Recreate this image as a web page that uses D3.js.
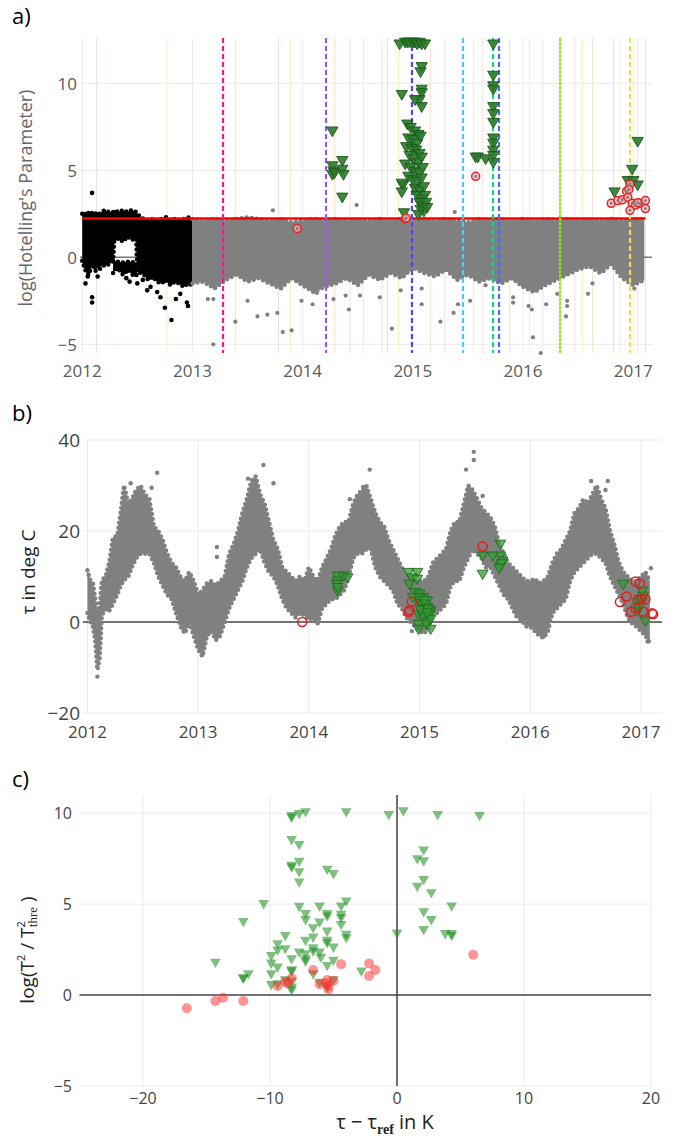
<!DOCTYPE html>
<html>
<head>
<meta charset="utf-8">
<script src="https://cdn.jsdelivr.net/npm/d3@7"></script>
<style>
  body { margin: 0; background: #fff; }
  svg { display: block; }
  text { font-family: "Open Sans", sans-serif; }
</style>
</head>
<body>
<div id="chart"></div>
<script>
// =================================== DATA ===================================

const years = [2012, 2013, 2014, 2015, 2016, 2017]

// panel a : log(Hotelling's parameter), dense cloud as [date, low, high]
const aBlackBand = [
  [2012.00, -0.2, 2.5], [2012.02, -0.6, 2.6], [2012.04, -0.9, 2.4], [2012.06, -1.0, 2.6],
  [2012.08, -0.6, 2.5], [2012.10, -0.4, 2.6], [2012.12, -0.8, 2.5], [2012.14, -0.5, 2.6],
  [2012.16, -0.7, 2.5], [2012.18, -0.3, 2.6], [2012.20, -0.5, 2.7], [2012.24, -0.4, 2.6],
  [2012.28, -0.2, 2.6], [2012.29, 0.9, 2.7], [2012.33, 1.1, 2.6], [2012.37, 0.9, 2.7],
  [2012.41, 1.2, 2.6], [2012.45, 1.0, 2.7], [2012.49, 1.1, 2.6], [2012.50, -0.8, 2.5],
  [2012.53, -0.9, 2.3],
  [2012.56, -1.0, 2.2], [2012.60, -1.3, 2.1], [2012.64, -1.1, 2.2], [2012.68, -1.4, 2.1],
  [2012.72, -1.5, 2.2], [2012.76, -1.3, 2.3], [2012.80, -1.6, 2.1], [2012.84, -1.4, 2.2],
  [2012.88, -1.5, 2.1], [2012.92, -1.7, 2.2], [2012.96, -1.5, 2.3], [2013.00, -1.6, 2.2]
]
// black points under the white gap of spring 2012
const aBlackLow = [
  [2012.28, -0.9, -0.2], [2012.32, -0.6, -0.25], [2012.37, -1.0, -0.3],
  [2012.42, -0.7, -0.25], [2012.47, -1.1, -0.3], [2012.50, -1.0, -0.3]
]
const aGrayBand = [
  [2013.0, -1.5, 2.2], [2013.1, -1.4, 2.1], [2013.2, -1.8, 2.2], [2013.3, -1.3, 2.1],
  [2013.4, -1.0, 2.2], [2013.5, -1.4, 2.3], [2013.6, -1.2, 2.2], [2013.7, -1.5, 2.1],
  [2013.8, -1.8, 2.2], [2013.9, -1.2, 2.0], [2014.0, -1.6, 2.1], [2014.1, -2.0, 2.2],
  [2014.2, -1.7, 2.1], [2014.3, -1.5, 2.2], [2014.4, -1.2, 2.1], [2014.5, -1.6, 2.2],
  [2014.6, -1.0, 2.1], [2014.7, -1.3, 2.2], [2014.8, -0.9, 2.1], [2014.9, -1.2, 2.2],
  [2015.0, -0.6, 2.1], [2015.1, -0.9, 2.2], [2015.2, -1.1, 2.1], [2015.3, -0.7, 2.2],
  [2015.4, -1.3, 2.1], [2015.5, -1.0, 2.0], [2015.6, -1.4, 2.2], [2015.7, -1.2, 2.1],
  [2015.8, -1.5, 2.2], [2015.9, -1.2, 2.1], [2016.0, -1.7, 2.2], [2016.1, -2.0, 2.1],
  [2016.2, -1.6, 2.2], [2016.3, -1.3, 2.1], [2016.4, -1.0, 2.2], [2016.5, -0.7, 2.1],
  [2016.6, -0.5, 2.2], [2016.7, -0.9, 2.1], [2016.8, -0.4, 2.2], [2016.9, -1.2, 2.1],
  [2017.0, -1.6, 2.2], [2017.1, -1.3, 2.2]
]
const aBlackDots = [
  [2012.05, -1.1], [2012.09, -2.3], [2012.09, -2.6], [2012.09, 3.7], [2012.40, -1.2],
  [2012.43, -1.4], [2012.50, -1.5], [2012.55, -1.3], [2012.59, -1.9], [2012.62, -1.7],
  [2012.68, -2.0], [2012.75, -2.9], [2012.81, -3.6], [2012.89, -2.1], [2012.95, -2.6],
  [2012.96, -2.8], [2012.71, -2.3], [2012.85, -2.4], [2012.03, -1.5], [2012.14, -1.1]
]
const aGrayDots = [
  [2013.14, -2.4], [2013.19, -2.4], [2013.19, -5.0], [2013.39, -3.7], [2013.50, -2.5],
  [2013.59, -3.4], [2013.68, -3.3], [2013.77, -3.2], [2013.82, -4.3], [2013.90, -4.2],
  [2013.99, -2.5], [2014.09, -2.7], [2014.13, -2.05], [2014.28, -2.4], [2014.39, -2.2],
  [2014.42, -3.0], [2014.52, -2.2], [2014.70, -2.3], [2014.81, -4.1], [2014.89, -1.9],
  [2015.08, -1.8], [2015.08, -2.7], [2015.25, -3.7], [2015.37, -3.2], [2015.41, -2.7],
  [2015.52, -2.5], [2015.66, -1.6], [2015.91, -2.3], [2015.91, -2.6], [2016.05, -2.8],
  [2016.08, -3.0], [2016.09, -4.6], [2016.16, -5.5], [2016.21, -2.7], [2016.31, -2.1],
  [2016.40, -2.5], [2016.40, -2.8], [2016.39, -3.4], [2016.59, -2.1], [2016.63, -1.5],
  [2016.73, -0.8], [2017.00, -1.5], [2017.01, -1.8], [2013.73, 2.7], [2014.49, 3.0],
  [2015.38, 2.6]
]
const aThreshold = 2.23
const aEventDates = [2013.278, 2014.212, 2014.992, 2015.455, 2015.728, 2015.782, 2016.336, 2016.971]
const aFaintDates = [
  2012.13, 2012.77, 2013.39, 2013.78, 2013.89, 2014.29, 2014.43, 2014.55, 2014.72, 2014.77,
  2014.87, 2015.16, 2015.29, 2015.55, 2015.63, 2015.88, 2016.06, 2016.18, 2016.47, 2016.54,
  2016.63, 2016.82, 2016.88, 2017.04, 2017.11
]
const aGreen = [
  [2014.27, 7.3], [2014.27, 5.3], [2014.27, 4.8], [2014.28, 5.0], [2014.29, 4.9],
  [2014.36, 5.6], [2014.36, 5.1], [2014.37, 4.8], [2014.36, 3.5],
  [2014.88, 12.3], [2014.93, 12.4], [2014.95, 12.4], [2014.97, 12.4], [2015.00, 12.4],
  [2015.02, 12.4], [2015.04, 12.3], [2015.06, 12.4], [2015.08, 12.3], [2015.11, 12.3],
  [2015.08, 11.0], [2015.07, 10.7], [2015.08, 9.7], [2015.08, 9.5], [2015.06, 9.1],
  [2014.90, 9.4], [2015.02, 9.1], [2015.08, 8.7],
  [2014.95, 7.7], [2014.98, 7.5], [2015.02, 7.3], [2015.05, 7.1], [2014.96, 6.9],
  [2015.00, 6.8], [2015.04, 6.6], [2015.07, 7.0], [2014.94, 6.4], [2014.99, 6.3],
  [2015.03, 6.2], [2015.06, 6.0], [2014.97, 5.9], [2015.01, 5.7], [2015.05, 5.5],
  [2015.08, 5.8], [2014.93, 5.4], [2014.98, 5.2], [2015.02, 5.0], [2015.06, 4.9],
  [2015.09, 5.2], [2014.96, 4.7], [2015.00, 4.5], [2015.04, 4.4], [2015.08, 4.6],
  [2014.91, 4.2], [2015.02, 4.0], [2015.06, 3.9], [2015.10, 4.1], [2015.04, 3.6],
  [2015.08, 3.4], [2015.11, 3.6], [2015.06, 3.2], [2015.09, 3.0], [2015.12, 3.2],
  [2015.07, 2.8], [2015.10, 2.7], [2015.13, 2.9], [2014.92, 2.6], [2014.90, 3.8],
  [2015.05, 2.5], [2014.90, 4.3],
  [2015.57, 5.8], [2015.59, 5.8], [2015.66, 5.7],
  [2015.73, 12.3], [2015.73, 10.5], [2015.73, 9.9], [2015.73, 9.7], [2015.73, 8.7],
  [2015.73, 8.3], [2015.73, 7.8], [2015.73, 6.9], [2015.73, 6.6], [2015.73, 6.2],
  [2015.73, 5.9], [2015.73, 5.5],
  [2017.04, 6.7], [2016.99, 5.1], [2016.95, 4.45], [2017.00, 4.45], [2017.04, 4.2],
  [2016.83, 3.8]
]
const aRed = [
  [2013.95, 1.65], [2014.93, 2.2], [2014.94, 2.25], [2015.57, 4.65],
  [2016.80, 3.1], [2016.86, 3.26], [2016.90, 3.3], [2016.94, 3.8], [2016.97, 4.2],
  [2016.95, 3.45], [2016.99, 3.1], [2017.02, 3.0], [2017.06, 3.1], [2017.11, 3.26],
  [2017.11, 2.8], [2016.97, 2.7], [2017.04, 3.14], [2016.96, 3.9]
]

// panel b : tau in deg C, dense cloud as [date, low, high]
const bBand = [
  [2012.00, 2.0, 11.4], [2012.02, 0.4, 9.5], [2012.05, -1, 8.5], [2012.07, -4, 5],
  [2012.09, -10.5, 2.0], [2012.11, -8, 3], [2012.13, 1.5, 9.0], [2012.17, 3.0, 10.5],
  [2012.20, 2.6, 13.5], [2012.23, 4.0, 18.5], [2012.27, 6.0, 19], [2012.30, 8.0, 24],
  [2012.33, 9.2, 30], [2012.37, 10, 26], [2012.40, 12, 27], [2012.44, 14, 29],
  [2012.48, 15, 30], [2012.52, 15, 28], [2012.56, 15, 27], [2012.60, 13, 21],
  [2012.64, 10, 20], [2012.68, 8, 18], [2012.72, 6, 15], [2012.76, 5, 13],
  [2012.80, 2, 12], [2012.84, -1, 10], [2012.88, -2.5, 9], [2012.92, 0, 11],
  [2012.96, -3, 9], [2013.00, -6, 6], [2013.04, -7.6, 7], [2013.08, -3, 8.5],
  [2013.12, -2, 9], [2013.16, -4, 8], [2013.20, -3, 9], [2013.24, 0, 10],
  [2013.28, 3, 15], [2013.32, 5, 17], [2013.36, 7, 20], [2013.40, 9, 24],
  [2013.44, 12, 27], [2013.48, 14, 31], [2013.52, 15, 32], [2013.56, 16, 28],
  [2013.60, 13, 26], [2013.64, 11, 22], [2013.68, 10, 18], [2013.72, 8, 16],
  [2013.76, 5, 12], [2013.80, 3, 11], [2013.84, 2, 10], [2013.88, 1, 9],
  [2013.92, 2, 10], [2013.96, 1.5, 9], [2014.00, 0.5, 12], [2014.04, 1, 10],
  [2014.08, -0.3, 9], [2014.12, 3, 12], [2014.16, 4, 14], [2014.20, 5, 16],
  [2014.24, 5, 19], [2014.28, 6, 21], [2014.32, 7, 22], [2014.36, 10, 22],
  [2014.40, 14, 26], [2014.44, 15, 28], [2014.48, 15, 29], [2014.52, 16, 30],
  [2014.56, 16, 27], [2014.60, 12, 24], [2014.64, 10, 22], [2014.68, 9, 21],
  [2014.72, 8, 18], [2014.76, 7, 16], [2014.80, 4, 14], [2014.84, 3, 12],
  [2014.88, 1, 10], [2014.92, 0, 10], [2014.96, -1, 9], [2015.00, -2, 9],
  [2015.04, -2.5, 9], [2015.08, -1.5, 10], [2015.12, 2, 13], [2015.16, 2, 14],
  [2015.20, 3, 15], [2015.24, 4, 16], [2015.28, 8, 20], [2015.32, 9, 22],
  [2015.36, 9, 22], [2015.40, 12, 26], [2015.44, 14, 30], [2015.48, 16, 29],
  [2015.52, 15, 27], [2015.56, 14, 25], [2015.60, 12, 24], [2015.64, 12, 23],
  [2015.68, 10, 21], [2015.72, 8, 17], [2015.76, 6, 15], [2015.80, 5, 13],
  [2015.84, 3, 12], [2015.88, 1, 11], [2015.92, 0.5, 10], [2015.96, -1, 9],
  [2016.00, -1, 9], [2016.04, -2, 9.5], [2016.08, -3, 8.5], [2016.12, -3.5, 9],
  [2016.16, -2, 10], [2016.20, 2, 13], [2016.24, 3, 15], [2016.28, 4, 16],
  [2016.32, 5, 18], [2016.36, 9, 20], [2016.40, 11, 24], [2016.44, 12, 25],
  [2016.48, 13, 27], [2016.52, 14, 26], [2016.56, 15, 28], [2016.60, 15, 30],
  [2016.64, 14, 27], [2016.68, 13, 25], [2016.72, 10, 20], [2016.76, 8, 17],
  [2016.80, 6, 13], [2016.84, 4, 11], [2016.88, 1, 10], [2016.92, -0.3, 9],
  [2016.96, -1, 9], [2017.00, -2, 10], [2017.04, -3, 11], [2017.08, -4.6, 9]
]
const bDots = [
  [2012.09, -12.0], [2012.39, 30.5], [2012.63, 32.8], [2012.58, 29.5], [2013.59, 34.5],
  [2013.45, 31.5], [2013.68, 30.5], [2013.17, 16.5], [2013.17, 14.3], [2014.55, 33.5],
  [2014.49, 29.7], [2014.37, 27], [2015.49, 37.4], [2015.49, 35.6], [2015.42, 33.5],
  [2015.57, 27.7], [2016.55, 31.0], [2016.70, 31.0], [2016.68, 29], [2016.12, -3.2],
  [2016.04, -1.4], [2017.06, -4.3], [2017.09, 11.8], [2014.93, -2.0]
]
const bGreen = [
  [2014.26, 10.3], [2014.26, 9.2], [2014.31, 10.3], [2014.35, 9.9], [2014.26, 7.0],
  [2014.25, 8.5], [2014.26, 7.8],
  [2014.90, 11.1], [2014.98, 11.1], [2014.93, 9.9], [2014.98, 9.6], [2014.91, 8.5],
  [2014.96, 6.7], [2015.00, 6.3], [2015.03, 5.6], [2014.99, 4.8], [2015.07, 4.8],
  [2015.07, 3.4], [2014.99, 1.9], [2014.99, -0.3], [2014.99, -1.4], [2015.10, -1.4],
  [2015.07, 0.4], [2015.02, 3.7], [2015.10, 2.6], [2014.94, 5.6], [2015.00, 5.5],
  [2015.02, 4.2], [2015.04, 3.0], [2015.05, 2.0], [2015.06, 1.2], [2015.08, 0.5],
  [2015.03, 1.5], [2015.01, 2.8], [2015.05, 4.0], [2015.09, 1.8], [2015.06, -0.2],
  [2015.08, 3.0], [2015.04, 5.0], [2015.10, 0.8], [2015.07, 2.2],
  [2015.57, 14.7], [2015.57, 10.7], [2015.73, 17.3], [2015.73, 14.7], [2015.73, 12.5],
  [2015.66, 14.7], [2015.75, 13.6], [2015.74, 13.0], [2015.72, 12.0],
  [2016.84, 8.5], [2017.02, 5.9], [2017.01, 7.0], [2017.04, 0.4], [2016.97, 2.6],
  [2016.99, 4.5], [2017.00, 5.2], [2016.98, 3.5]
]
const bRed = [
  [2013.94, 0], [2015.57, 16.6], [2014.91, 2.6], [2014.90, 2.2], [2014.93, 4.5],
  [2016.81, 4.4], [2016.87, 5.6], [2016.95, 8.9], [2016.99, 8.4], [2016.97, 4.8],
  [2017.01, 5.2], [2017.04, 5.0], [2016.91, 2.2], [2017.02, 2.3], [2017.10, 1.9],
  [2017.11, 1.7], [2016.95, 3.0]
]

// panel c : log(T2/T2thre) against tau - tau_ref
const cGreen = [
  [-8.3, 9.9], [-7.7, 10.0], [-7.2, 10.1], [-4.0, 10.1], [-0.65, 9.95], [0.5, 10.15],
  [3.2, 9.95], [6.5, 9.9], [-8.3, 9.8],
  [-8.3, 8.57], [-7.7, 8.3], [-7.7, 7.38], [-8.3, 7.16], [-8.3, 7.06], [-7.7, 6.8],
  [-7.7, 6.24], [-5.5, 6.94], [-5.0, 6.7], [-10.5, 5.05], [-7.7, 4.9], [-6.1, 4.92],
  [-4.4, 4.92], [-4.0, 5.2], [-7.2, 4.5], [-7.2, 4.17], [-5.5, 4.5], [-5.5, 4.37],
  [-4.4, 4.46], [-4.4, 4.28], [-12.1, 4.07], [-6.1, 4.04], [-6.6, 3.72], [-5.5, 3.54],
  [-4.4, 3.9], [-4.0, 3.36], [-4.0, 3.17], [-8.8, 3.3], [-7.2, 3.03], [-6.6, 3.21],
  [-5.5, 3.03], [-5.5, 2.9], [-9.4, 2.84], [-8.8, 2.57], [-9.4, 2.5], [-5.0, 2.66],
  [-6.6, 2.62], [-6.6, 2.44], [-6.1, 2.39], [-7.7, 2.39], [-7.2, 2.29], [-9.9, 2.2],
  [-7.2, 2.02], [-8.3, 2.02], [-7.2, 1.89], [-6.0, 2.1], [-5.0, 1.93], [-9.9, 1.78],
  [-9.4, 1.56], [-5.5, 1.65], [-14.3, 1.83], [-11.7, 1.19], [-12.1, 0.95], [-12.1, 0.98],
  [-9.9, 1.19], [-8.3, 1.41], [-8.3, 1.34], [-6.6, 1.19], [-9.4, 0.64], [-9.9, 0.6],
  [-8.8, 0.86], [-8.3, 0.79], [-8.3, 0.46], [-8.3, 0.31], [-6.1, 0.73], [-5.5, 0.46],
  [-5.0, 0.86], [-2.8, 1.34], [0.0, 3.43], [1.6, 7.52], [2.1, 8.0], [2.1, 7.4],
  [1.6, 6.0], [2.1, 6.37], [2.7, 5.65], [4.3, 4.92], [2.1, 4.6], [2.7, 4.17],
  [2.1, 3.63], [3.8, 3.4], [4.3, 3.4], [4.3, 3.3]
]
const cRed = [
  [-16.55, -0.73], [-14.3, -0.33], [-13.7, -0.15], [-12.1, -0.33], [-9.4, 0.5],
  [-8.8, 0.73], [-8.6, 0.64], [-8.3, 0.92], [-6.6, 1.38], [-6.1, 0.6], [-5.5, 0.83],
  [-5.4, 0.5], [-5.0, 0.79], [-4.4, 1.7], [-2.2, 1.74], [-2.2, 1.05], [-1.7, 1.38],
  [6.0, 2.22], [-5.4, 0.31], [-5.6, 0.65]
]

// =================================== GRAPH SETTINGS ===================================

const width = 674
const height = 1139
const minus = s => String(s).replace('-', '\u2212')
const eventColors = ['#e0228c', '#a355ee', '#5a45dd', '#5cc6ec', '#22d07a', '#4a6ef0', '#95df2c', '#f0df55']
const faintColors = ['#f9d9de', '#f7eec4', '#fae3d0']
const downTri = d3.symbol().type(d3.symbolTriangle)

const svg = d3.select('#chart').append('svg')
  .attr('width', width)
  .attr('height', height)

const xa = d3.scaleLinear().domain([2011.98, 2017.17]).range([80, 652])
const ya = d3.scaleLinear().domain([-5.5, 12.6]).range([353, 38])
const xb = d3.scaleLinear().domain([2011.96, 2017.19]).range([83, 662])
const yb = d3.scaleLinear().domain([-20, 40]).range([713, 440])
const xc = d3.scaleLinear().domain([-25, 20]).range([79.5, 651])
const yc = d3.scaleLinear().domain([-5, 11]).range([1086, 795])

// grid + tick labels, plotly look
function frame (x, y, xt, yt, opt) {
  const g = svg.append('g')
  g.selectAll('.vg').data(xt).enter().append('line')
    .attr('x1', d => x(d)).attr('x2', d => x(d))
    .attr('y1', y.range()[1]).attr('y2', y.range()[0])
    .attr('stroke', '#ebebeb').attr('stroke-width', 1)
  g.selectAll('.hg').data(yt.filter(d => d !== 0)).enter().append('line')
    .attr('x1', x.range()[0]).attr('x2', x.range()[1])
    .attr('y1', d => y(d)).attr('y2', d => y(d))
    .attr('stroke', '#ebebeb').attr('stroke-width', 1)
  g.selectAll('.xl').data(xt).enter().append('text')
    .attr('x', d => x(d)).attr('y', opt.xLabelY)
    .attr('text-anchor', 'middle').attr('dominant-baseline', 'central')
    .attr('font-size', opt.fs).attr('fill', opt.tickColor)
    .text(d => minus(d))
  g.selectAll('.yl').data(yt).enter().append('text')
    .attr('x', opt.yLabelX).attr('y', d => y(d))
    .attr('text-anchor', 'end').attr('dominant-baseline', 'central')
    .attr('font-size', opt.yfs || opt.fs).attr('fill', opt.tickColor)
    .text(d => minus(d))
  return g
}

function band (x, y, data, color) {
  const area = d3.area().x(d => x(d[0])).y0(d => y(d[1])).y1(d => y(d[2]))
  svg.append('path').datum(data).attr('d', area).attr('fill', color)
  ;[1, 2].forEach(k => {
    svg.append('path').datum(data)
      .attr('d', d3.line().x(d => x(d[0])).y(d => y(d[k])))
      .attr('fill', 'none').attr('stroke', color).attr('stroke-width', 4.5)
      .attr('stroke-linecap', 'round').attr('stroke-dasharray', '0 5')
  })
}

function dots (x, y, data, color, r) {
  svg.append('g').selectAll('circle').data(data).enter().append('circle')
    .attr('cx', d => x(d[0])).attr('cy', d => y(d[1])).attr('r', r)
    .attr('fill', color)
}

function tris (x, y, data, size, fill, stroke, op) {
  svg.append('g').selectAll('path').data(data).enter().append('path')
    .attr('d', downTri.size(size)())
    .attr('transform', d => `translate(${x(d[0])},${y(d[1])}) rotate(180)`)
    .attr('fill', fill).attr('fill-opacity', op)
    .attr('stroke', stroke).attr('stroke-width', stroke === 'none' ? 0 : 0.9)
}

function panelLabel (txt, yy) {
  svg.append('text').attr('x', 12).attr('y', yy)
    .attr('font-family', '"Liberation Serif", "Times New Roman", serif')
    .attr('font-size', 22).attr('fill', '#000').text(txt)
}

// =================================== PANEL A ===================================

panelLabel('a)', 24)
frame(xa, ya, years, [-5, 0, 5, 10], { xLabelY: 370, yLabelX: 77, fs: 17, tickColor: '#5a5a5a' })

svg.append('g').selectAll('line').data(aFaintDates).enter().append('line')
  .attr('x1', d => xa(d)).attr('x2', d => xa(d))
  .attr('y1', ya.range()[1]).attr('y2', ya.range()[0])
  .attr('stroke', (d, i) => faintColors[i % 3]).attr('stroke-width', 1)

svg.append('line')
  .attr('x1', xa.range()[0]).attr('x2', xa.range()[1])
  .attr('y1', ya(0)).attr('y2', ya(0))
  .attr('stroke', '#777').attr('stroke-width', 1.5)

band(xa, ya, aBlackBand, '#000')
band(xa, ya, aBlackLow, '#000')
dots(xa, ya, aBlackDots, '#000', 2.3)
band(xa, ya, aGrayBand, '#808080')
dots(xa, ya, aGrayDots, '#808080', 2.1)

svg.append('line')
  .attr('x1', xa(2012)).attr('x2', xa(2017.11))
  .attr('y1', ya(aThreshold)).attr('y2', ya(aThreshold))
  .attr('stroke', '#ff0000').attr('stroke-width', 2.5)

svg.append('g').selectAll('line').data(aEventDates).enter().append('line')
  .attr('x1', d => xa(d)).attr('x2', d => xa(d))
  .attr('y1', ya.range()[1]).attr('y2', ya.range()[0])
  .attr('stroke', (d, i) => eventColors[i]).attr('stroke-width', 2.2)
  .attr('stroke-dasharray', (d, i) => i === 6 ? '3 1' : '5 3')

tris(xa, ya, aGreen, 55, '#2a7a2a', '#1a5a1a', 0.9)

svg.append('g').selectAll('circle').data(aRed).enter().append('circle')
  .attr('cx', d => xa(d[0])).attr('cy', d => ya(d[1])).attr('r', 4)
  .attr('fill', '#f4b6b6').attr('fill-opacity', 0.7)
  .attr('stroke', '#e8202a').attr('stroke-width', 1.5)
svg.append('g').selectAll('circle').data(aRed).enter().append('circle')
  .attr('cx', d => xa(d[0])).attr('cy', d => ya(d[1])).attr('r', 1.5)
  .attr('fill', '#808080')

svg.append('text')
  .attr('transform', 'translate(25,198) rotate(-90)')
  .attr('text-anchor', 'middle').attr('dominant-baseline', 'central')
  .attr('font-size', 18).attr('fill', '#666')
  .text("log(Hotelling's Parameter)")

// =================================== PANEL B ===================================

panelLabel('b)', 421)
frame(xb, yb, years, [-20, 0, 20, 40], { xLabelY: 731, yLabelX: 80, fs: 17, yfs: 19, tickColor: '#444' })

svg.append('line')
  .attr('x1', xb.range()[0]).attr('x2', xb.range()[1])
  .attr('y1', yb(0)).attr('y2', yb(0))
  .attr('stroke', '#444').attr('stroke-width', 1.5)

band(xb, yb, bBand, '#808080')
dots(xb, yb, bDots, '#808080', 2.2)

tris(xb, yb, bGreen, 50, '#3a9a3a', '#157015', 0.75)

svg.append('g').selectAll('circle').data(bRed).enter().append('circle')
  .attr('cx', d => xb(d[0])).attr('cy', d => yb(d[1])).attr('r', 4.5)
  .attr('fill', 'none').attr('stroke', '#e01e1e').attr('stroke-width', 1.5)

svg.append('text')
  .attr('transform', 'translate(28,572) rotate(-90)')
  .attr('text-anchor', 'middle').attr('dominant-baseline', 'central')
  .attr('font-size', 19).attr('fill', '#222')
  .text('\u03c4 in deg C')

// =================================== PANEL C ===================================

panelLabel('c)', 787)
frame(xc, yc, [-20, -10, 0, 10, 20], [-5, 0, 5, 10], { xLabelY: 1098, yLabelX: 72, fs: 16, tickColor: '#444' })

svg.append('line')
  .attr('x1', xc.range()[0]).attr('x2', xc.range()[1])
  .attr('y1', yc(0)).attr('y2', yc(0))
  .attr('stroke', '#444').attr('stroke-width', 1.5)
svg.append('line')
  .attr('x1', xc(0)).attr('x2', xc(0))
  .attr('y1', yc.range()[1]).attr('y2', yc.range()[0])
  .attr('stroke', '#444').attr('stroke-width', 1.5)

tris(xc, yc, cGreen, 50, '#168a16', 'none', 0.55)
svg.append('g').selectAll('circle').data(cRed).enter().append('circle')
  .attr('cx', d => xc(d[0])).attr('cy', d => yc(d[1])).attr('r', 5)
  .attr('fill', '#ff2a2a').attr('fill-opacity', 0.5)

const cy = svg.append('text')
  .attr('transform', 'translate(27,950) rotate(-90)')
  .attr('text-anchor', 'middle')
  .attr('dominant-baseline', 'central')
  .attr('font-size', 19).attr('fill', '#222')
cy.append('tspan').text('log(T')
cy.append('tspan').attr('dy', -7).attr('font-size', 11).text('2')
cy.append('tspan').attr('dy', 7).text(' / T')
cy.append('tspan').attr('dy', -7).attr('font-size', 11).text('2')
cy.append('tspan').attr('dx', -6).attr('dy', 12).attr('font-size', 13)
  .attr('font-family', '"Liberation Serif", serif').text('thre')
cy.append('tspan').attr('dy', -5).text(' )')

const cx = svg.append('text')
  .attr('x', 385).attr('y', 1129)
  .attr('text-anchor', 'middle')
  .attr('font-size', 20).attr('fill', '#222')
cx.append('tspan').text('\u03c4 \u2212 \u03c4')
cx.append('tspan').attr('dy', 5).attr('font-size', 14)
  .attr('font-family', '"Liberation Serif", serif').attr('font-weight', 'bold').text('ref')
cx.append('tspan').attr('dy', -5).text(' in K')
</script>
</body>
</html>
